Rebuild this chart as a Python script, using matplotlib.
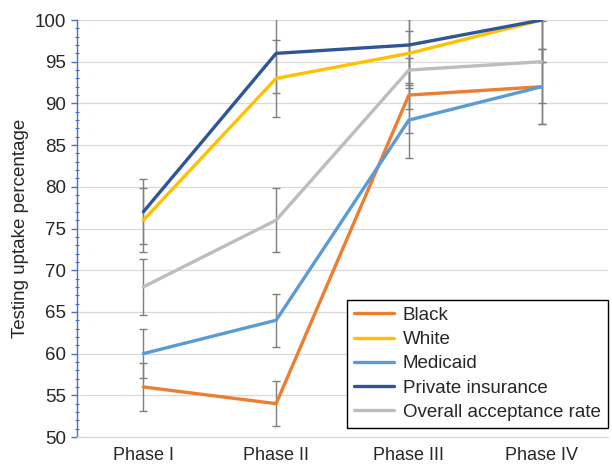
import numpy as np
import matplotlib
matplotlib.use('Agg')
import matplotlib.pyplot as plt
from matplotlib.ticker import MultipleLocator

plt.rcParams['font.family'] = ['Liberation Sans', 'DejaVu Sans']

phases = ['Phase I', 'Phase II', 'Phase III', 'Phase IV']

black = [56, 54, 91, 92]
black_err = [2.9, 2.7, 4.5, 4.5]
white = [76, 93, 96, 100]
white_err = [3.8, 4.6, 4.1, 5.0]
medicaid = [60, 64, 88, 92]
medicaid_err = [2.9, 3.2, 4.5, 4.5]
private = [77, 96, 97, 100]
private_err = [3.9, 4.8, 4.8, 5.0]
overall = [68, 76, 94, 95]
overall_err = [3.4, 3.8, 4.7, 4.9]

series = [
    ('Black', black, black_err, '#ED7D31'),
    ('White', white, white_err, '#FFC000'),
    ('Medicaid', medicaid, medicaid_err, '#5B9BD5'),
    ('Private insurance', private, private_err, '#2F5597'),
    ('Overall acceptance rate', overall, overall_err, '#BDBDBD'),
]

fig = plt.figure(figsize=(6.12, 4.65), dpi=100)
ax = fig.add_axes([77/612, 1-437/465, (608-77)/612, (437-20)/465])

x = np.arange(len(phases))
for name, vals, err, col in series:
    ax.errorbar(x, vals, yerr=err, fmt='none', ecolor='#7f7f7f',
                elinewidth=1.0, capsize=2.6, capthick=1.0, zorder=2)
for name, vals, err, col in series:
    ax.plot(x, vals, color=col, lw=2.4, label=name, zorder=3,
            solid_capstyle='round', solid_joinstyle='round')

ax.set_xlim(-0.5, 3.5)
ax.set_ylim(50, 100)
ax.set_xticks(x)
ax.set_xticklabels(phases)
ax.yaxis.set_major_locator(MultipleLocator(5))
ax.yaxis.set_minor_locator(MultipleLocator(1))
ax.grid(axis='y', color='#d9d9d9', lw=0.9, zorder=0)
ax.set_axisbelow(True)

for s in ['top', 'right']:
    ax.spines[s].set_visible(False)
ax.spines['bottom'].set_color('#d9d9d9')
ax.spines['bottom'].set_linewidth(0.9)
ax.spines['left'].set_color('#4472C4')
ax.spines['left'].set_linewidth(1.0)

ax.tick_params(axis='x', length=0, pad=7, labelsize=13, labelcolor='#262626')
ax.tick_params(axis='y', which='major', length=4, width=1.0, color='#4472C4',
               direction='out', pad=4, labelsize=13.5, labelcolor='#262626')
ax.tick_params(axis='y', which='minor', length=3, width=0.8, color='#4472C4',
               direction='inout')

ax.set_ylabel('Testing uptake percentage', fontsize=13.5, color='#262626', labelpad=4)

leg = ax.legend(loc='lower right', bbox_to_anchor=(608/612, 1-428/465),
                bbox_transform=fig.transFigure, borderaxespad=0,
                fancybox=False, edgecolor='#000000', framealpha=1,
                fontsize=13.5, handlelength=2.13, handletextpad=0.48,
                labelspacing=0.38, borderpad=0.38)
leg.get_frame().set_linewidth(1.0)
for t in leg.get_texts():
    t.set_color('#262626')

fig.savefig('out.png', dpi=100)
